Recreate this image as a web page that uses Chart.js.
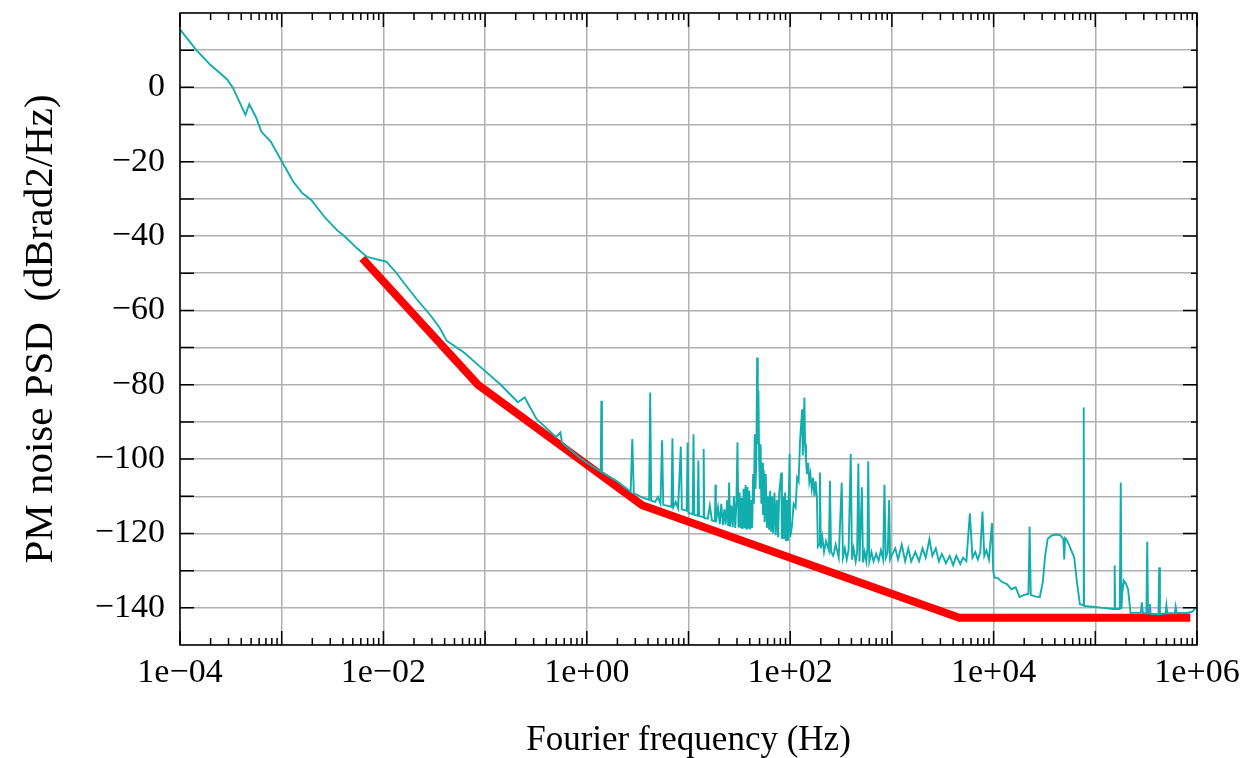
<!DOCTYPE html>
<html>
<head>
<meta charset="utf-8">
<script src="https://cdn.jsdelivr.net/npm/chart.js@4.4.1/dist/chart.umd.min.js"></script>
<style>
  body { margin: 0; background: #fff; }
  canvas { display: block; }
</style>
</head>
<body>
<canvas id="chart" width="1244" height="758"></canvas>
<script>
// Axis ticks and labels
const xDecades = [1e-4, 1e-3, 1e-2, 1e-1, 1, 1e1, 1e2, 1e3, 1e4, 1e5, 1e6];
const xTickValues = [1e-4, 1e-2, 1, 1e2, 1e4, 1e6];
const xTickLabels = ['1e\u221204', '1e\u221202', '1e+00', '1e+02', '1e+04', '1e+06'];
const yTickValues = [0, -20, -40, -60, -80, -100, -120, -140];
const yTickLabels = ['0', '\u221220', '\u221240', '\u221260', '\u221280', '\u2212100', '\u2212120', '\u2212140'];

const psdSlope = [
  [1.0e-4, 15.6], [1.45e-4, 10.0], [2.0e-4, 6.0], [2.9e-4, 2.2], [3.3e-4, 0], [4.4e-4, -7.4],
  [4.8e-4, -4.5], [5.6e-4, -8.1], [6.3e-4, -11.9], [7.8e-4, -14.6], [1.0e-3, -19.9], [1.3e-3, -25.4],
  [1.6e-3, -28.5], [1.95e-3, -30.3], [2.7e-3, -35.2], [3.5e-3, -38.4], [4.2e-3, -40.2], [5.5e-3, -43.3],
  [6.9e-3, -45.6], [7.9e-3, -46.0], [1.07e-2, -46.9], [1.35e-2, -50.0], [1.6e-2, -52.7], [2.1e-2, -56.8],
  [2.9e-2, -61.3], [3.6e-2, -64.8], [4.2e-2, -68.2], [6.2e-2, -71.3], [9.5e-2, -75.8], [0.14, -79.8],
  [0.21, -84.7], [0.245, -83.4], [0.26, -84.7], [0.32, -89.2], [0.5, -94.1], [0.55, -92.8],
  [0.57, -95.5], [0.8, -99], [1.0, -101]
];
const psdLow = [
  [1.3, -103], [1.37, -103.3], [1.39, -84.3], [1.41, -103.5], [2.0, -106], [2.7, -108.8], [2.8, -94.6],
  [2.9, -109.2], [3.5, -110.3], [4.1, -111], [4.2, -82.1], [4.3, -111.2], [4.7, -111.5], [5.0, -110.2],
  [5.3, -112], [5.5, -94.9], [5.65, -112.3], [6.8, -112.8], [6.95, -94.4], [7.1, -112.9], [7.5, -111.5],
  [7.9, -113.2], [8.4, -96.6], [8.6, -113.5], [9.6, -113.9], [9.8, -95.5], [10.0, -114.5], [11.0, -114.8],
  [11.2, -93.3], [11.4, -115], [12.3, -115.2], [12.5, -100.4], [12.7, -115.3], [13.9, -115.6],
  [14.1, -97.3], [14.3, -115.8], [15.5, -116], [16.2, -112.5], [17.0, -116.5], [18.2, -116.7],
  [18.4, -106.9], [18.6, -117]
];
const psdMid = [
  [19.5, -113], [20.3, -117.5], [21.0, -112], [21.8, -117.8], [22.5, -113.5], [23.2, -117.6],
  [24.0, -111], [24.6, -118], [25.1, -106.3], [25.6, -118.2], [26.4, -112.5], [27.2, -118.3],
  [28.0, -110], [28.8, -118.5], [29.6, -111.5], [30.3, -95.5], [31.0, -118.4], [31.8, -109],
  [32.5, -118.6], [33.3, -110.5], [34.0, -118.8], [34.8, -108], [35.6, -118.6], [36.4, -107],
  [37.2, -119], [38.0, -107.5], [38.8, -118.7], [39.6, -108.5], [40.5, -118.9], [41.4, -111],
  [42.3, -118.5], [43.2, -104], [44.0, -112], [44.8, -93.3], [45.5, -108], [46.5, -100], [47.3, -72.7],
  [48.0, -96], [48.7, -81.6], [49.5, -100], [50.3, -108], [51.2, -96], [52.0, -112], [53.0, -101],
  [54.0, -115], [55.0, -103], [56.0, -117], [57.5, -104], [59, -118.5], [60.5, -110], [62, -119],
  [63.5, -108.5], [65, -119.5], [66.5, -110], [68, -120], [70, -109], [72, -120.5], [74, -111],
  [76, -121], [78, -109], [81.7, -103.6], [83, -121.5], [85, -110], [87, -121.5], [89, -109],
  [91, -121.8], [93, -111], [95, -122], [98.6, -98.6], [100, -121], [104, -118], [108, -112],
  [113, -113], [117, -105], [121, -106], [125, -95], [131, -86.6], [133, -99], [138, -83.4],
  [140, -96], [143, -100], [146, -104], [150, -101], [154, -106], [158, -104], [163, -108],
  [168, -105], [173, -110], [178, -106], [183, -110], [187, -123.5]
];
const psdKilo = [
  [192, -123], [196, -103.6], [200, -124], [207, -121], [215, -125], [225, -122], [240, -124.5],
  [246, -105.8], [252, -125], [265, -126], [280, -123], [300, -126.5], [321, -106.3], [330, -126.5],
  [345, -124], [360, -127], [375, -124.5], [394, -98.6], [405, -127], [420, -124], [440, -127.5],
  [455, -125], [468, -101.2], [480, -127.5], [507, -107.6], [520, -127.8], [540, -125], [560, -127.5],
  [575, -124], [585, -100.6], [600, -127.5], [630, -125], [660, -127.5], [700, -125.5], [740, -127.3],
  [780, -124.5], [820, -127], [845, -106.9], [870, -126.5], [910, -125], [940, -111], [960, -127],
  [990, -126], [1080, -124], [1150, -127], [1250, -123], [1350, -127.5], [1450, -124], [1550, -127.5],
  [1700, -125], [1850, -127.5], [2000, -124], [2150, -126.5], [2340, -121.5], [2500, -126],
  [2700, -124], [2900, -127.5], [3100, -125.5], [3400, -128], [3700, -126], [4000, -128.5],
  [4300, -126], [4700, -128.2], [5000, -126.5], [5400, -127.5], [5840, -114.6], [6200, -126.5],
  [6600, -125], [7000, -127], [7400, -125], [7770, -114.1], [8100, -126], [8500, -124.5], [9000, -127],
  [9640, -117.2], [9900, -130], [10200, -131.8]
];
const psdHigh = [
  [11000, -132], [12000, -133], [13500, -133.6], [15000, -135], [16500, -134.5], [18000, -137.1],
  [20000, -136.5], [22000, -136.2], [22600, -118.2], [23200, -136.5], [26000, -137], [28500, -137.1],
  [30500, -133], [32000, -126.4], [34000, -121.5], [37000, -120.6], [41000, -120.3], [45500, -120.5],
  [48500, -121.5], [49500, -127], [50500, -121.2], [53000, -122], [57000, -124], [62000, -126.4],
  [66000, -133], [70500, -139], [76000, -139.3], [76800, -139.4], [77100, -86.1], [77500, -139.5],
  [93000, -139.7], [120000, -140], [150000, -140.3], [153000, -140.3], [155000, -128.6],
  [157000, -140.3], [174000, -140.3], [178000, -106.3], [181000, -140.3], [184000, -136],
  [191000, -132.7], [200000, -133.5], [210000, -135], [222000, -141.4], [250000, -141.3],
  [280000, -141.4], [287000, -138.5], [294000, -141.4], [318000, -141.5], [324000, -122.2],
  [330000, -141.5], [340000, -141.5], [345000, -139], [350000, -141.6], [418000, -141.7],
  [425000, -129.1], [432000, -141.7], [490000, -141.5], [500000, -139.3], [510000, -141.5],
  [605000, -141.4], [617000, -139.7], [630000, -141.4], [800000, -141.4], [900000, -141],
  [1000000, -139.6]
];
const psdData = psdSlope.concat(psdLow, psdMid, psdKilo, psdHigh);

// Red mask (specification line)
const maskData = [[6.2e-3, -46], [0.085, -80], [3.5, -112.4], [4.6e3, -142.7], [8.6e5, -142.7]];

const FONT = "'Liberation Serif', 'Times New Roman', serif";

// Inside tick marks + frame, like the original plot
const insideTicks = {
  id: 'insideTicks',
  afterDatasetsDraw(chart) {
    const { ctx, chartArea: a, scales: { x, y } } = chart;
    ctx.save();
    ctx.strokeStyle = '#000';
    ctx.lineWidth = 1.5;
    ctx.beginPath();
    for (let i = 0; i < xDecades.length; i++) {
      const px = x.getPixelForValue(xDecades[i]);
      ctx.moveTo(px, a.bottom); ctx.lineTo(px, a.bottom - 14);
      ctx.moveTo(px, a.top); ctx.lineTo(px, a.top + 14);
      if (i === xDecades.length - 1) break;
      for (let m = 2; m <= 9; m++) {
        const pm = x.getPixelForValue(xDecades[i] * m);
        ctx.moveTo(pm, a.bottom); ctx.lineTo(pm, a.bottom - 7);
        ctx.moveTo(pm, a.top); ctx.lineTo(pm, a.top + 7);
      }
    }
    for (let v = -140; v <= 10; v += 10) {
      const py = y.getPixelForValue(v);
      ctx.moveTo(a.left, py); ctx.lineTo(a.left + 14, py);
      const len = v % 20 === 0 ? 14 : 6;
      ctx.moveTo(a.right, py); ctx.lineTo(a.right - len, py);
    }
    ctx.stroke();
    ctx.strokeRect(a.left, a.top, a.right - a.left, a.bottom - a.top);
    ctx.restore();
  }
};

const ctx = document.getElementById('chart').getContext('2d');
new Chart(ctx, {
  type: 'line',
  data: {
    datasets: [
      {
        label: 'PSD',
        data: psdData.map(p => ({ x: p[0], y: p[1] })),
        borderColor: '#12adad',
        borderWidth: 1.9,
        pointRadius: 0,
        tension: 0,
        fill: false
      },
      {
        label: 'Mask',
        data: maskData.map(p => ({ x: p[0], y: p[1] })),
        borderColor: '#ff0000',
        borderWidth: 8,
        pointRadius: 0,
        tension: 0,
        fill: false
      }
    ]
  },
  options: {
    responsive: false,
    animation: false,
    layout: { padding: { top: 13, right: 47, left: 0, bottom: 0 } },
    plugins: { legend: { display: false }, tooltip: { enabled: false } },
    scales: {
      x: {
        type: 'logarithmic',
        min: 1e-4,
        max: 1e6,
        afterBuildTicks: scale => { scale.ticks = xDecades.map(v => ({ value: v })); },
        afterFit: scale => {
          scale.height = 113;
          scale.paddingLeft = 0;
          scale.paddingRight = 0;
        },
        grid: { color: '#b0b0b0', lineWidth: 1.5, drawTicks: false },
        border: { display: false },
        ticks: {
          autoSkip: false,
          maxRotation: 0,
          padding: 8,
          color: '#000',
          font: { family: FONT, size: 34 },
          callback: v => {
            const i = xTickValues.indexOf(v);
            return i >= 0 ? xTickLabels[i] : '';
          }
        },
        title: {
          display: true,
          text: 'Fourier frequency (Hz)',
          color: '#000',
          font: { family: FONT, size: 35, lineHeight: 1 },
          padding: { top: 0, bottom: 0 }
        }
      },
      y: {
        min: -150,
        max: 20,
        afterFit: scale => {
          scale.width = 180;
          scale.paddingTop = 0;
          scale.paddingBottom = 0;
        },
        grid: { color: '#b0b0b0', lineWidth: 1.5, drawTicks: false },
        border: { display: false },
        ticks: {
          stepSize: 10,
          autoSkip: false,
          padding: 15,
          color: '#000',
          font: { family: FONT, size: 34 },
          callback: v => {
            const i = yTickValues.indexOf(v);
            return i >= 0 ? yTickLabels[i] : '';
          }
        },
        title: {
          display: true,
          text: 'PM noise PSD  (dBrad2/Hz)',
          color: '#000',
          font: { family: FONT, size: 41, lineHeight: 1 },
          padding: { top: 21, bottom: 0 }
        }
      }
    }
  },
  plugins: [insideTicks]
});
</script>
</body>
</html>
